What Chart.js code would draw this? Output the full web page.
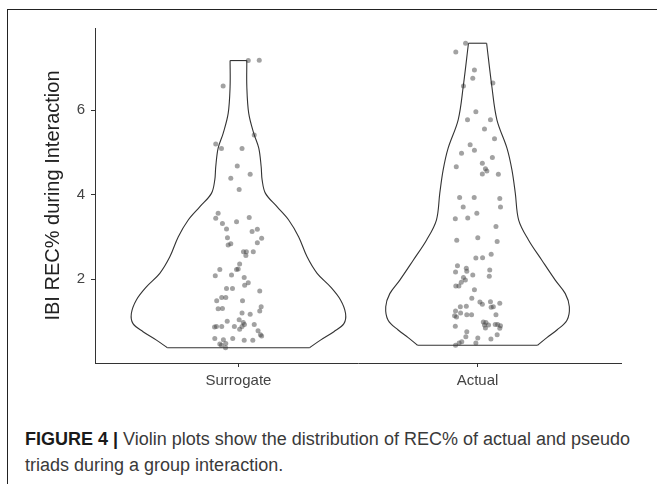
<!DOCTYPE html>
<html lang="en">
<head>
    <meta charset="UTF-8">
    <title>Violin plots REC%</title>
    <script src="https://cdn.jsdelivr.net/npm/chart.js"></script>
    <style>
        body { margin: 0; background: #fff; }
        #page { position: relative; width: 657px; height: 484px; overflow: hidden; }
        #frame { position: absolute; left: 7px; top: 9px; width: 700px; height: 520px; border: 1.5px solid #222; }
        #violin { position: absolute; left: 0; top: 0; }
        .caption { position: absolute; left: 25px; top: 426px; width: 630px; font-family: "Liberation Sans", Arial, sans-serif;
                   font-size: 18px; line-height: 26px; color: #3a3a3a; white-space: nowrap; }
        .caption b { color: #1a1a1a; }
    </style>
</head>
<body>
<div id="page">
    <div id="frame"></div>
    <canvas id="violin" width="657" height="400"></canvas>
    <div class="caption"><b>FIGURE 4 |</b> Violin plots show the distribution of REC% of actual and pseudo<br>triads during a group interaction.</div>
</div>

<script>
    // groups on the x axis
    const categories = ['Surrogate', 'Actual'];
    const yTicks = [2, 4, 6];

    // violin outlines: REC% level and half width (in category units), bottom to top
    const surrogateLevels = [0.38, 0.56, 0.76, 0.95, 1.19, 1.51, 1.82, 2.14, 2.53, 3.00, 3.40, 3.71, 4.03, 4.35, 4.66, 5.10, 5.45, 5.92, 6.55, 7.17];
    const surrogateHalfWidth = [0.297, 0.343, 0.399, 0.441, 0.448, 0.427, 0.385, 0.329, 0.287, 0.252, 0.210, 0.162, 0.113, 0.099, 0.095, 0.085, 0.064, 0.043, 0.035, 0.035];
    const actualLevels = [0.44, 0.62, 0.80, 1.03, 1.35, 1.66, 1.98, 2.45, 2.93, 3.40, 4.03, 4.58, 5.10, 5.77, 6.55, 7.58];
    const actualHalfWidth = [0.251, 0.290, 0.332, 0.374, 0.384, 0.367, 0.325, 0.269, 0.213, 0.172, 0.158, 0.144, 0.123, 0.081, 0.060, 0.038];

    // jittered observations (value, horizontal jitter)
    const surrogateValues = [7.17, 7.18, 6.57, 5.41, 5.20, 5.09, 5.09, 4.68, 4.48, 4.39, 4.12, 3.56, 3.44, 3.46, 3.36, 3.32, 3.19, 3.18, 3.13, 2.97,
        2.98, 2.84, 2.81, 2.86, 2.65, 2.65, 2.56, 2.65, 2.36, 2.24, 2.23, 2.23, 2.08, 2.10, 2.04, 1.92, 1.86, 1.78, 1.78, 1.72,
        1.57, 1.57, 1.49, 1.49, 1.30, 1.31, 1.35, 1.25, 1.20, 1.17, 1.01, 1.04, 0.98, 0.93, 0.93, 0.88, 0.88, 0.87, 0.88, 0.88,
        0.82, 0.78, 0.66, 0.69, 0.60, 0.57, 0.60, 0.56, 0.56, 0.47, 0.44, 0.38, 0.48];
    const surrogateJitter = [0.041, 0.087, -0.064, 0.066, -0.095, -0.071, 0.015, -0.005, 0.049, -0.032, 0.003, -0.085, -0.095, 0.045, -0.008, -0.067, -0.050, 0.079, 0.057, 0.097,
        -0.046, -0.032, -0.043, 0.079, 0.021, 0.033, 0.031, 0.062, 0.005, -0.001, -0.008, -0.078, -0.097, -0.029, 0.024, 0.041, 0.026, -0.050, -0.025, 0.089,
        -0.070, -0.053, -0.091, 0.017, -0.085, -0.067, 0.095, 0.089, 0.015, 0.049, -0.047, 0.003, 0.020, 0.025, 0.066, -0.092, -0.070, -0.100, -0.017, 0.015,
        0.005, 0.082, 0.097, 0.092, -0.099, -0.063, -0.024, 0.024, 0.060, -0.078, -0.071, -0.054, -0.053];
    const actualValues = [7.58, 7.37, 6.95, 6.75, 6.57, 6.64, 5.96, 5.77, 5.77, 5.55, 5.32, 5.18, 5.05, 4.98, 4.88, 4.66, 4.74, 4.61, 4.56, 4.49,
        4.48, 3.93, 3.93, 3.91, 3.71, 3.71, 3.56, 3.43, 3.45, 3.25, 2.92, 2.98, 2.89, 2.59, 2.50, 2.51, 2.32, 2.26, 2.17, 2.19,
        2.22, 2.10, 2.07, 2.04, 1.98, 1.93, 1.84, 1.84, 1.75, 1.55, 1.46, 1.41, 1.47, 1.43, 1.35, 1.34, 1.35, 1.36, 1.25, 1.20,
        1.16, 1.16, 1.11, 1.14, 1.16, 0.89, 0.99, 0.98, 0.92, 0.92, 0.93, 0.90, 0.93, 0.85, 0.84, 0.76, 0.64, 0.69, 0.61, 0.59,
        0.52, 0.49, 0.44, 0.49];
    const actualJitter = [-0.050, -0.091, -0.013, -0.020, -0.059, 0.064, -0.007, -0.042, 0.054, 0.029, 0.071, -0.031, -0.013, -0.067, 0.062, -0.089, 0.020, 0.033, 0.039, 0.020,
        0.087, -0.075, -0.014, 0.093, -0.060, 0.096, -0.003, -0.093, -0.041, 0.077, -0.087, 0.001, 0.082, 0.057, -0.007, 0.021, -0.084, -0.047, -0.092, -0.045,
        0.051, -0.020, 0.049, -0.059, -0.051, -0.068, -0.078, -0.091, -0.013, -0.024, 0.010, 0.020, 0.054, 0.093, 0.066, 0.057, -0.072, -0.047, -0.092, -0.071,
        -0.045, -0.025, -0.088, -0.096, 0.077, -0.093, 0.024, 0.035, 0.046, 0.029, 0.074, 0.096, 0.084, 0.033, 0.093, -0.045, -0.049, 0.082, 0.001, 0.056,
        -0.066, -0.077, -0.092, -0.007];

    const violins = [
        { levels: surrogateLevels, hw: surrogateHalfWidth, values: surrogateValues, jitter: surrogateJitter },
        { levels: actualLevels, hw: actualHalfWidth, values: actualValues, jitter: actualJitter }
    ];

    const lineStyle = { type: 'line', borderColor: '#333', borderWidth: 1.1, pointRadius: 0, fill: false, showLine: true };
    const datasets = [];
    violins.forEach((v, i) => {
        const c = i + 1;
        const n = v.levels.length - 1;
        datasets.push({ ...lineStyle, tension: 0.35, data: v.levels.map((y, k) => ({ x: c - v.hw[k], y })) });
        datasets.push({ ...lineStyle, tension: 0.35, data: v.levels.map((y, k) => ({ x: c + v.hw[k], y })) });
        datasets.push({ ...lineStyle, tension: 0, data: [{ x: c - v.hw[0], y: v.levels[0] }, { x: c + v.hw[0], y: v.levels[0] }] });
        datasets.push({ ...lineStyle, tension: 0, data: [{ x: c - v.hw[n], y: v.levels[n] }, { x: c + v.hw[n], y: v.levels[n] }] });
    });
    violins.forEach((v, i) => {
        datasets.push({
            type: 'scatter',
            data: v.values.map((y, k) => ({ x: i + 1 + v.jitter[k], y })),
            backgroundColor: 'rgba(70,70,70,0.5)',
            borderWidth: 0,
            pointRadius: 2.5
        });
    });

    const tickFont = { family: 'Liberation Sans', size: 15 };
    const axisGrid = { display: true, drawOnChartArea: false, drawTicks: true, tickLength: 4, color: '#333', lineWidth: 1 };
    const axisBorder = { display: true, color: '#333', width: 1 };

    new Chart(document.getElementById('violin'), {
        type: 'scatter',
        data: { datasets },
        options: {
            responsive: false,
            animation: false,
            layout: { padding: { top: 28, right: 36, left: 0, bottom: 0 } },
            plugins: { legend: { display: false }, tooltip: { enabled: false } },
            scales: {
                x: {
                    type: 'linear', min: 0.4, max: 2.6,
                    grid: axisGrid, border: axisBorder,
                    afterBuildTicks: s => { s.ticks = categories.map((c, i) => ({ value: i + 1 })); },
                    afterFit: s => { s.height = 37; },
                    ticks: { font: tickFont, color: '#444', padding: 5, callback: v => categories[v - 1] }
                },
                y: {
                    type: 'linear', min: 0.02, max: 7.94,
                    grid: axisGrid, border: axisBorder,
                    afterBuildTicks: s => { s.ticks = yTicks.map(v => ({ value: v })); },
                    afterFit: s => { s.width = 95; },
                    ticks: { font: tickFont, color: '#444', padding: 6 },
                    title: { display: true, text: 'IBI REC% during Interaction', color: '#222',
                             font: { family: 'Liberation Sans', size: 20 }, padding: { top: 41, bottom: 0 } }
                }
            }
        }
    });
</script>
</body>
</html>
